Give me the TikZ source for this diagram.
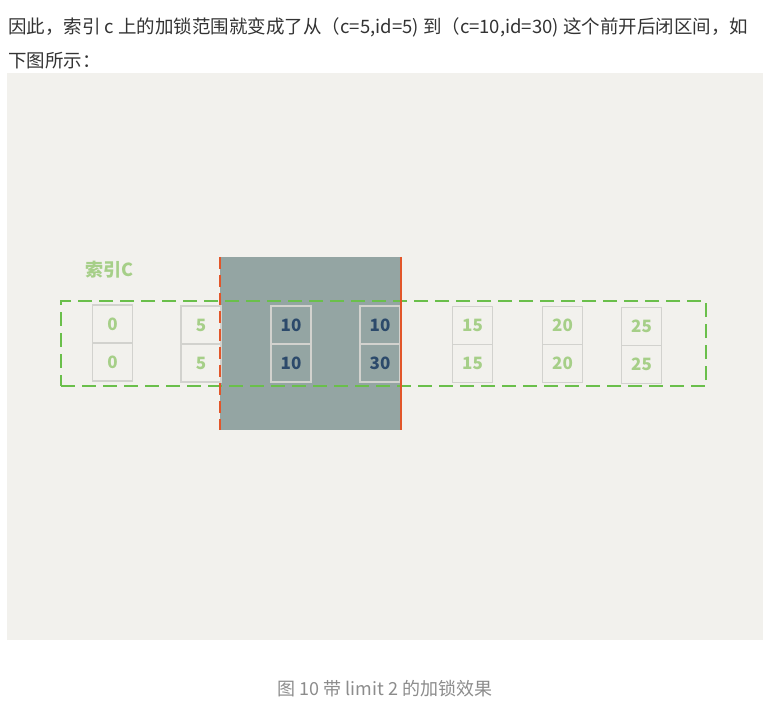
\documentclass[tikz,border=0pt]{standalone}
\usepackage{fontspec}
\setmainfont{Noto Sans CJK SC}
\usetikzlibrary{positioning}
\definecolor{panelgray}{HTML}{F2F1ED}
\definecolor{bodytext}{HTML}{333333}
\definecolor{lockfill}{HTML}{94A5A3}
\definecolor{lockred}{HTML}{E2562A}
\definecolor{rangegreen}{HTML}{6ABF4B}
\definecolor{keygreen}{HTML}{A6CF88}
\definecolor{boxgray}{HTML}{D2D2CE}
\definecolor{keyblue}{HTML}{2C4A6B}
\definecolor{capgray}{HTML}{8C8C8C}
\tikzset{
  cellbox/.style={draw=boxgray, line width=1.5pt, minimum width=40pt, minimum height=38pt, inner sep=0pt, text=keygreen, font=\fontsize{17}{17}\selectfont\bfseries},
  lockedcell/.style={cellbox, text=keyblue},
  rangebox/.style={draw=rangegreen, line width=2pt, dash pattern=on 14pt off 7pt, minimum width=645pt, minimum height=85pt, inner sep=0pt},
  lockedge/.style={draw=lockred, line width=2pt},
  bodyline/.style={anchor=west, text=bodytext, inner sep=0pt, font=\fontsize{18.5}{20}\selectfont}
}
\begin{document}
\begin{tikzpicture}[x=1pt,y=-1pt]
    \useasboundingbox (0,0) rectangle (780,706);
    \node[bodyline] (line1) at (8,27) {因此，索引 c 上的加锁范围就变成了从（c=5,id=5) 到（c=10,id=30) 这个前开后闭区间，如};
    \node[bodyline] (line2) at (8,61) {下图所示：};
    \fill[panelgray] (7,73) rectangle (763,640);
    \node[fill=lockfill, minimum width=181pt, minimum height=173pt, inner sep=0pt] (lock) at (310.5,343.5) {};
    \node[text=keygreen, font=\fontsize{18}{18}\selectfont\bfseries] (idxname) at (110,270) {索引C};
    \node[cellbox] (c0) at (112.5,324) {0};
    \node[cellbox, below=-1.5pt of c0] (id0) {0};
    \node[cellbox] (c5) at (201,325) {5};
    \node[cellbox, below=-1.5pt of c5] (id5) {5};
    \node[lockedcell] (c10a) at (291,325) {10};
    \node[lockedcell, below=-1.5pt of c10a] (id10) {10};
    \node[lockedcell] (c10b) at (380,325) {10};
    \node[lockedcell, below=-1.5pt of c10b] (id30) {30};
    \node[cellbox] (c15) at (472.5,325.5) {15};
    \node[cellbox, below=-1.5pt of c15] (id15) {15};
    \node[cellbox] (c20) at (562.5,325.5) {20};
    \node[cellbox, below=-1.5pt of c20] (id20) {20};
    \node[cellbox] (c25) at (641.5,326.5) {25};
    \node[cellbox, below=-1.5pt of c25] (id25) {25};
    \node[rangebox] (range) at (383.5,343.5) {};
    \draw[lockedge, dash pattern=on 12pt off 6pt] (lock.north west) -- (lock.south west);
    \draw[lockedge] (lock.north east) -- (lock.south east);
    \node[text=capgray, font=\fontsize{18}{18}\selectfont] (caption) at (385,689) {图 10 带 limit 2 的加锁效果};
\end{tikzpicture}
\end{document}
